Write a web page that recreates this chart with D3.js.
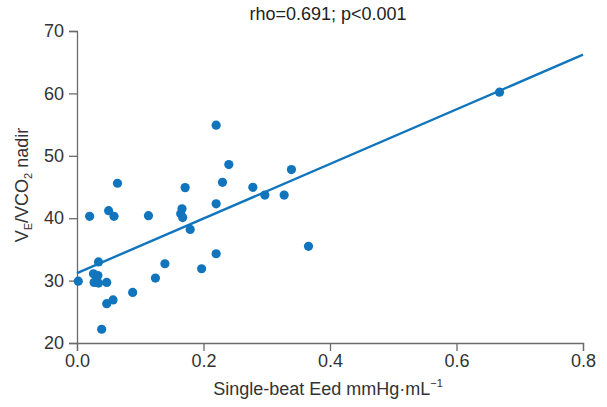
<!DOCTYPE html>
<html lang="en">
<head>
<meta charset="utf-8">
<script src="https://d3js.org/d3.v7.min.js"></script>
<style type="text/css">
body {
  margin: 0;
  background: #fff;
  font-family: "Liberation Sans", Arial, sans-serif;
}
.axis path,
.axis line {
  fill: none;
  stroke: #6b6b6b;
  stroke-width: 1.3;
}
.axis text {
  font: 18px "Liberation Sans", Arial, sans-serif;
  fill: #333;
}
</style>
</head>
<body>
<script type="text/javascript">
// single-beat Eed (x) vs VE/VCO2 nadir (y)
var eed = [0.220, 0.240, 0.230, 0.278, 0.171, 0.064, 0.220, 0.020, 0.050, 0.0585,
           0.113, 0.166, 0.164, 0.167, 0.179, 0.220, 0.139, 0.197, 0.034, 0.026,
           0.033, 0.027, 0.034, 0.047, 0.002, 0.124, 0.088, 0.057, 0.047, 0.039,
           0.297, 0.3275, 0.339, 0.366, 0.668];
var vevco2 = [54.9, 48.6, 45.75, 44.95, 44.9, 45.6, 42.3, 40.3, 41.2, 40.3,
              40.4, 41.5, 40.7, 40.1, 38.2, 34.3, 32.7, 31.9, 33.0, 31.1,
              30.8, 29.7, 29.6, 29.7, 29.9, 30.4, 28.1, 26.9, 26.3, 22.2,
              43.7, 43.7, 47.8, 35.5, 60.2];
var fitX = [0, 0.8];
var fitY = [31.2, 66.2];
var xTicks = [0, 0.2, 0.4, 0.6, 0.8];
var yTicks = [20, 30, 40, 50, 60, 70];

var W = 607, H = 407;
var margin = {top: 31, right: 24, bottom: 64, left: 77};
var width = W - margin.left - margin.right;
var height = H - margin.top - margin.bottom;
var blue = "#1175be";

var x = d3.scaleLinear().domain([0, 0.8]).range([0, width]);
var y = d3.scaleLinear().domain([20, 70]).range([height, 0]);

var svg = d3.select("body").append("svg")
    .attr("width", W)
    .attr("height", H);

var g = svg.append("g")
    .attr("transform", "translate(" + margin.left + "," + margin.top + ")");

g.append("g")
  .attr("class", "axis axis--x")
  .attr("transform", "translate(0," + height + ")")
  .call(d3.axisBottom(x).tickValues(xTicks).tickSizeOuter(0).tickSize(8)
    .tickPadding(3).tickFormat(d3.format(".1f")));

g.append("g")
  .attr("class", "axis axis--y")
  .call(d3.axisLeft(y).tickValues(yTicks).tickSizeOuter(0).tickSize(8)
    .tickPadding(5).tickFormat(d3.format("d")));

var pts = eed.map(function(d, i) { return [d, vevco2[i]]; });

g.append("g").selectAll("circle")
  .data(pts)
  .enter()
  .append("circle")
    .attr("cx", function(d) { return x(d[0]); })
    .attr("cy", function(d) { return y(d[1]); })
    .attr("r", 4.6)
    .attr("fill", blue);

var line = d3.line()
  .x(function(d) { return x(d[0]); })
  .y(function(d) { return y(d[1]); });

g.append("path")
  .datum(fitX.map(function(d, i) { return [d, fitY[i]]; }))
  .attr("d", line)
  .attr("fill", "none")
  .attr("stroke", blue)
  .attr("stroke-width", 2.4);

svg.append("text")
  .attr("x", 328)
  .attr("y", 20)
  .attr("text-anchor", "middle")
  .style("font-size", "18px")
  .style("fill", "#222")
  .text("rho=0.691; p<0.001");

var xl = svg.append("text")
  .attr("x", 328)
  .attr("y", 395)
  .attr("text-anchor", "middle")
  .style("font-size", "18px")
  .style("fill", "#333")
  .text("Single-beat Eed mmHg\u00b7mL");
xl.append("tspan")
  .attr("dy", -8)
  .style("font-size", "11px")
  .text("\u22121");

var yl = svg.append("text")
  .attr("transform", "translate(28,185) rotate(-90)")
  .attr("text-anchor", "middle")
  .style("font-size", "18px")
  .style("fill", "#333");
yl.append("tspan").text("V");
yl.append("tspan").attr("dy", 4).style("font-size", "11px").text("E");
yl.append("tspan").attr("dy", -4).text("/VCO");
yl.append("tspan").attr("dy", 4).style("font-size", "11px").text("2");
yl.append("tspan").attr("dy", -4).text(" nadir");
</script>
</body>
</html>
